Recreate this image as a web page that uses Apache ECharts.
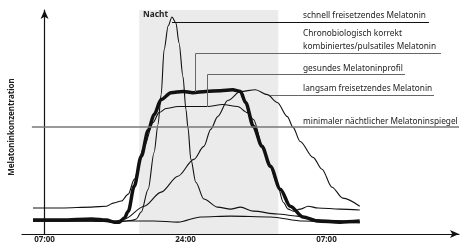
<!DOCTYPE html>
<html>
<head>
<meta charset="utf-8">
<script src="https://cdn.jsdelivr.net/npm/echarts@6/dist/echarts.min.js"></script>
<style>
html, body { margin: 0; padding: 0; background: #fff; }
#container { width: 460px; height: 244px; }
</style>
</head>
<body>
<div id="container"></div>
<script>
// x: schematic time axis (07:00 = 0, 24:00 = 10, 07:00 = 20), y: concentration 0..100
var tickValues = [0, 10, 20];
var tickLabels = ['07:00', '24:00', '07:00'];
var nightStart = 6.72, nightEnd = 16.58;
var minLevel = 48;

// schnell freisetzendes Melatonin
var schnellX = [-0.82, 3.33, 5.09, 5.80, 6.29, 6.50, 6.86, 7.35, 7.77, 8.05, 8.27, 8.48, 8.77, 9.04, 9.32, 9.54, 9.82, 10.03, 10.17, 10.38, 10.73, 11.30, 12.28, 13.20, 13.90, 14.82, 16.51, 17.92, 19.54, 22.36];
var schnellY = [5.8, 5.8, 5.3, 5.8, 6.2, 6.7, 9.8, 20.0, 36.4, 48.9, 62.2, 82.2, 92.9, 96.9, 94.2, 85.3, 70.2, 55.6, 47.6, 33.3, 23.1, 15.6, 12.0, 11.1, 12.0, 10.2, 8.9, 8.0, 6.2, 5.3];

// Chronobiologisch korrekt kombiniertes/pulsatiles Melatonin (thick)
var kombiX = [-0.82, 1.22, 3.33, 4.39, 4.95, 5.30, 5.66, 5.94, 6.36, 6.86, 7.35, 7.77, 8.27, 8.97, 9.82, 10.52, 11.44, 12.49, 13.34, 13.90, 14.26, 14.82, 15.42, 16.02, 16.72, 17.43, 18.34, 19.33, 20.95, 22.36];
var kombiY = [6.2, 6.2, 6.7, 6.2, 5.3, 5.3, 7.1, 10.2, 21.3, 34.7, 46.2, 53.3, 60.0, 63.1, 63.6, 63.1, 63.6, 64.0, 64.4, 63.6, 58.7, 48.0, 39.2, 30.2, 20.0, 12.4, 7.6, 5.8, 5.3, 5.8];

// gesundes Melatoninprofil
var gesundX = [-0.82, 1.22, 3.33, 4.39, 4.88, 5.45, 5.94, 6.36, 7.07, 7.70, 8.12, 8.62, 9.46, 10.59, 11.58, 12.63, 13.69, 14.40, 14.82, 15.52, 16.02, 16.51, 16.93, 17.29, 17.64, 18.13, 18.70, 19.40, 20.95, 22.36];
var gesundY = [11.6, 11.6, 12.0, 12.4, 13.8, 14.7, 17.8, 24.4, 39.1, 49.8, 54.2, 56.0, 56.9, 56.9, 56.9, 57.8, 56.9, 54.2, 51.1, 37.8, 29.8, 22.2, 14.2, 11.1, 10.2, 11.1, 12.4, 11.6, 11.1, 10.7];

// langsam freisetzendes Melatonin
var langsamX = [-0.82, 3.33, 5.09, 5.66, 7.07, 8.27, 9.46, 10.59, 11.30, 11.79, 12.28, 12.99, 13.90, 14.96, 15.81, 16.51, 17.22, 17.63, 18.13, 19.05, 19.68, 20.39, 21.16, 22.36];
var langsamY = [5.8, 5.8, 5.8, 6.7, 12.4, 18.7, 25.8, 33.3, 39.1, 46.7, 52.4, 59.6, 63.6, 64.4, 62.2, 58.7, 52.4, 47.6, 41.3, 34.2, 28.9, 20.9, 16.0, 12.4];

// flache Kurve (ohne Nachtanstieg)
var flachX = [-0.82, 3.33, 5.09, 5.66, 7.77, 9.46, 11.08, 13.20, 16.02, 18.34, 22.36];
var flachY = [5.8, 5.8, 5.3, 5.8, 5.8, 5.3, 7.6, 8.0, 7.6, 5.8, 4.9];

function pairs(xs, ys) {
    var out = [];
    for (var i = 0; i < xs.length; i++) {
        out.push([xs[i], ys[i]]);
    }
    return out;
}

var txtFont = '8.3px "Noto Sans"';
var lineColor = '#111';

function curve(name, xs, ys, width) {
    return {
        name: name,
        type: 'line',
        data: pairs(xs, ys),
        symbol: 'none',
        smooth: 0.3,
        smoothMonotone: 'x',
        lineStyle: { color: lineColor, width: width },
        silent: true
    };
}

var dom = document.getElementById("container");
var myChart = echarts.init(dom);
var option = {
    animation: false,
    backgroundColor: '#fff',
    grid: { left: 20, right: 1, top: 10, bottom: 9 },
    xAxis: {
        type: 'value',
        min: -1.6,
        max: 29.4,
        axisLine: { lineStyle: { color: '#111', width: 1.2 }, symbol: ['none', 'arrow'], symbolSize: [6, 9] },
        axisTick: { show: false },
        splitLine: { show: false },
        axisLabel: {
            customValues: tickValues,
            margin: 2,
            fontSize: 8,
            fontWeight: 'bold',
            fontFamily: 'Noto Sans',
            color: '#222',
            formatter: function (v) {
                var i = tickValues.indexOf(v);
                return i >= 0 ? tickLabels[i] : '';
            }
        }
    },
    yAxis: {
        type: 'value',
        min: 0,
        max: 100,
        name: 'Melatoninkonzentration',
        nameLocation: 'middle',
        nameGap: 6,
        nameRotate: 90,
        nameTextStyle: { fontSize: 8, fontWeight: 'bold', fontFamily: 'Noto Sans', color: '#222', padding: [0, 0, 0, -10] },
        axisLine: { lineStyle: { color: '#111', width: 1.2 }, symbol: ['none', 'arrow'], symbolSize: [6, 9] },
        axisTick: { show: false },
        axisLabel: { show: false },
        splitLine: { show: false }
    },
    series: [
        {
            name: 'flach',
            type: 'line',
            data: pairs(flachX, flachY),
            symbol: 'none',
            smooth: 0.3,
            smoothMonotone: 'x',
            lineStyle: { color: lineColor, width: 1.1 },
            silent: true,
            markArea: {
                silent: true,
                itemStyle: { color: '#ebebeb' },
                data: [[{ xAxis: nightStart }, { xAxis: nightEnd }]]
            },
            markLine: {
                silent: true,
                symbol: 'none',
                label: { show: false },
                lineStyle: { color: '#777', width: 1.5, type: 'solid' },
                data: [[{ coord: [-0.9, minLevel] }, { coord: [29.4, minLevel] }]]
            }
        },
        curve('langsam freisetzendes Melatonin', langsamX, langsamY, 1.1),
        curve('gesundes Melatoninprofil', gesundX, gesundY, 1.1),
        curve('schnell freisetzendes Melatonin', schnellX, schnellY, 1.1),
        curve('kombiniertes/pulsatiles Melatonin', kombiX, kombiY, 3.5)
    ],
    graphic: [
        { type: 'text', z: 10, style: { x: 143, y: 15, text: 'Nacht', font: 'bold ' + txtFont, fill: '#222', verticalAlign: 'middle' } },
        { type: 'polyline', z: 10, shape: { points: [[172, 22.5], [429, 22.5]] }, style: { stroke: '#111', lineWidth: 1, fill: null } },
        { type: 'text', z: 10, style: { x: 303, y: 16, text: 'schnell freisetzendes Melatonin', font: txtFont, fill: '#222', verticalAlign: 'middle' } },
        { type: 'polyline', z: 10, shape: { points: [[195.5, 92], [195.5, 53.5], [441, 53.5]] }, style: { stroke: '#666', lineWidth: 1, fill: null } },
        { type: 'text', z: 10, style: { x: 303, y: 34, text: 'Chronobiologisch korrekt', font: txtFont, fill: '#222', verticalAlign: 'middle' } },
        { type: 'text', z: 10, style: { x: 303, y: 47, text: 'kombiniertes/pulsatiles Melatonin', font: txtFont, fill: '#222', verticalAlign: 'middle' } },
        { type: 'polyline', z: 10, shape: { points: [[207.5, 107], [207.5, 74.5], [405, 74.5]] }, style: { stroke: '#666', lineWidth: 1, fill: null } },
        { type: 'text', z: 10, style: { x: 303, y: 69, text: 'gesundes Melatoninprofil', font: txtFont, fill: '#222', verticalAlign: 'middle' } },
        { type: 'polyline', z: 10, shape: { points: [[270, 95.5], [434, 95.5]] }, style: { stroke: '#666', lineWidth: 1, fill: null } },
        { type: 'text', z: 10, style: { x: 303, y: 89, text: 'langsam freisetzendes Melatonin', font: txtFont, fill: '#222', verticalAlign: 'middle' } },
        { type: 'text', z: 10, style: { x: 303, y: 122, text: 'minimaler nächtlicher Melatoninspiegel', font: txtFont, fill: '#222', verticalAlign: 'middle' } }
    ]
};
if (option && typeof option === "object") {
    myChart.setOption(option, true);
}
</script>
</body>
</html>
